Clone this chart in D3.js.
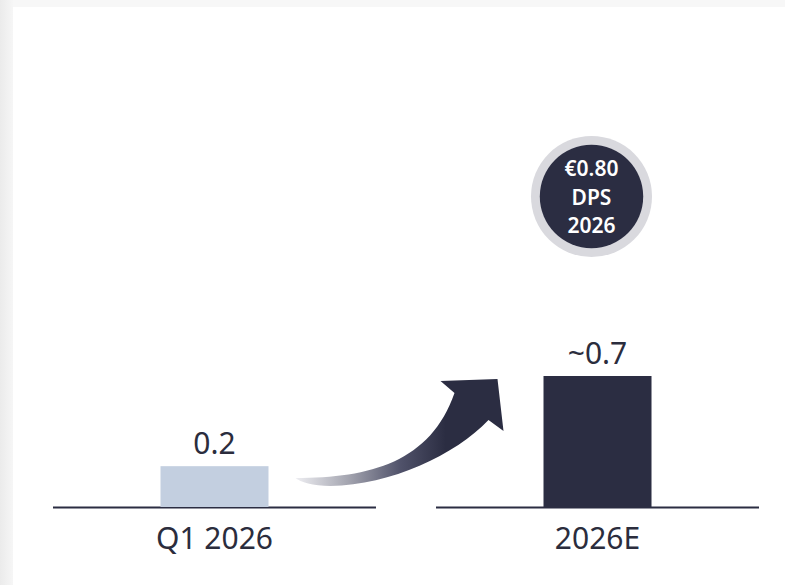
<!DOCTYPE html>
<html>
<head>
<meta charset="utf-8">
<script src="https://cdn.jsdelivr.net/npm/d3@7/dist/d3.min.js"></script>
<style>
  html, body { margin: 0; padding: 0; background: #f5f5f5; }
  svg { display: block; }
</style>
</head>
<body>
<svg id="chart" width="785" height="585"></svg>
<script>
// ---- data ----
const categories = ["Q1 2026", "2026E"];
const values = [0.22, 0.7];
const valueLabels = ["0.2", "~0.7"];
const barColors = ["#c3cfe0", "#2b2d42"];
const badgeLines = ["€0.80", "DPS", "2026"];

const W = 785, H = 585;
const FONT = "'Noto Sans', 'Open Sans', sans-serif";
const svg = d3.select("#chart");
const defs = svg.append("defs");

// background card
const lg = defs.append("linearGradient").attr("id", "leftShade")
  .attr("x1", 0).attr("x2", 1).attr("y1", 0).attr("y2", 0);
lg.append("stop").attr("offset", "0%").attr("stop-color", "#ebebeb");
lg.append("stop").attr("offset", "100%").attr("stop-color", "#f6f6f6");
svg.append("rect").attr("x", 0).attr("y", 0).attr("width", W).attr("height", H).attr("fill", "#f7f7f7");
svg.append("rect").attr("x", 0).attr("y", 0).attr("width", 13).attr("height", H).attr("fill", "url(#leftShade)");
svg.append("rect").attr("x", 13).attr("y", 7).attr("width", W - 13).attr("height", H - 7).attr("fill", "#ffffff");

// scales
const baseline = 507.5;
const x = d3.scaleBand().domain(categories).range([53, 759]).paddingInner(0.1567).paddingOuter(0);
const y = d3.scaleLinear().domain([0, 0.7]).range([baseline, 376]);
const barW = 108;

const g = svg.append("g");

// baselines per category
g.selectAll("line.base").data(categories).join("line")
  .attr("class", "base")
  .attr("x1", d => x(d)).attr("x2", d => x(d) + x.bandwidth())
  .attr("y1", baseline).attr("y2", baseline)
  .attr("stroke", "#2b2d42").attr("stroke-width", 2);

// bars
g.selectAll("rect.bar").data(values).join("rect")
  .attr("class", "bar")
  .attr("x", (d, i) => x(categories[i]) + x.bandwidth() / 2 - barW / 2)
  .attr("width", barW)
  .attr("y", d => y(d))
  .attr("height", d => baseline - 0.5 - y(d))
  .attr("fill", (d, i) => barColors[i]);

// value labels
g.selectAll("text.val").data(values).join("text")
  .attr("class", "val")
  .attr("x", (d, i) => x(categories[i]) + x.bandwidth() / 2)
  .attr("y", d => y(d) - 12.5)
  .attr("text-anchor", "middle")
  .attr("font-family", FONT)
  .attr("font-size", 30)
  .attr("fill", "#2b2d3d")
  .text((d, i) => valueLabels[i]);

// category labels
g.selectAll("text.cat").data(categories).join("text")
  .attr("class", "cat")
  .attr("x", d => x(d) + x.bandwidth() / 2)
  .attr("y", 548.5)
  .attr("text-anchor", "middle")
  .attr("font-family", FONT)
  .attr("font-size", 30)
  .attr("fill", "#2b2d3d")
  .text(d => d);

// curved arrow from bar 1 to bar 2
const b1Right = x(categories[0]) + x.bandwidth() / 2 + barW / 2;
const ax = b1Right + 27, ay = baseline - 29.5;
const grad = defs.append("linearGradient").attr("id", "arrowGrad")
  .attr("gradientUnits", "userSpaceOnUse")
  .attr("x1", ax).attr("x2", ax + 150).attr("y1", 0).attr("y2", 0);
grad.append("stop").attr("offset", "0%").attr("stop-color", "#eeeef2");
grad.append("stop").attr("offset", "35%").attr("stop-color", "#a4a5b0");
grad.append("stop").attr("offset", "70%").attr("stop-color", "#50526a");
grad.append("stop").attr("offset", "100%").attr("stop-color", "#2b2d42");

const p = (dx, dy) => `${ax + dx},${ay + dy}`;
const arrowPath = [
  "M", p(0, 0),
  "C", p(75, 0), p(135, -16), p(159, -85),
  "L", p(145, -97),
  "L", p(202, -99),
  "L", p(208, -47),
  "L", p(193, -58),
  "C", p(160, -23), p(95, 7), p(35, 8),
  "C", p(17, 8), p(5, 4), p(0, 0),
  "Z"
].join(" ");
g.append("path").attr("d", arrowPath).attr("fill", "url(#arrowGrad)");

// DPS badge
const cx = x(categories[1]) + x.bandwidth() / 2 - 6, cy = 196.5;
g.append("circle").attr("cx", cx).attr("cy", cy).attr("r", 60.5).attr("fill", "#d9d9de");
g.append("circle").attr("cx", cx).attr("cy", cy).attr("r", 51.7).attr("fill", "#2b2d42");
g.selectAll("text.badge").data(badgeLines).join("text")
  .attr("class", "badge")
  .attr("x", cx)
  .attr("y", (d, i) => 176 + i * 28.7)
  .attr("text-anchor", "middle")
  .attr("font-family", FONT)
  .attr("font-weight", 600)
  .attr("font-size", 21)
  .attr("fill", "#ffffff")
  .text(d => d);
</script>
</body>
</html>
